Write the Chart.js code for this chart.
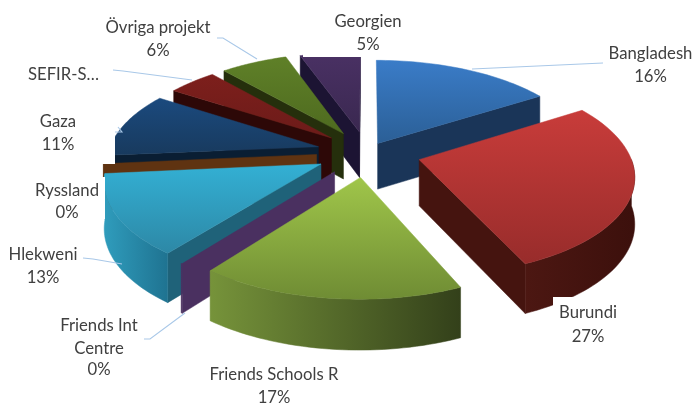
<!DOCTYPE html>
<html><head><meta charset="utf-8">
<style>html,body{margin:0;padding:0;background:#fff}canvas{display:block}</style>
<script src="https://cdn.jsdelivr.net/npm/chart.js@4"></script>
</head><body><canvas id="c" width="696" height="404"></canvas>
<script>
const categories = ["Bangladesh","Burundi","Friends Schools R","Friends Int Centre","Hlekweni","Ryssland","Gaza","SEFIR-S…","Övriga projekt","Georgien"];
const shares = [16,27.4,17,0.1,13,0.1,10.6,4.4,6,5.4];
const explode = [19,46,45,44,44,43,43,41,41,39];
const topFrom = ["#3a7cc8","#c83c3a","#a0c64a","#533769","#33b0d4","#6b3a12","#1b4a7e","#7d1f1c","#5f8028","#4a3164"];
const topTo   = ["#2b5f96","#982c2b","#6f8c34","#3f2a55","#2d88a6","#6b3a12","#183a5e","#6c1b19","#4e6a1f","#3a2850"];
const wallCol = ["#1a3558","#45140f","#3a4a1c","#4a3060","#1f6279","#5f3311","#0a1e33","#2d0807","#252f0c","#1c1433"];
const rimFrom = ["#1a3558","#4c1712","#76933a","#4a3060","#2f9cbc","#5f3311","#0a1e33","#2d0807","#252f0c","#1c1433"];
const rimTo   = ["#1a3558","#3c100c","#33401a","#4a3060","#1f7391","#5f3311","#0a1e33","#2d0807","#252f0c","#1c1433"];
const labelBoxes = [[20,108,95,56],[303,8,110,49],[553,297,80,56],[20,177,85,42]];
const leaders = [[[603,63],[472,69]],[[217,38],[223,38],[257,59]],[[113,70],[123,71],[192,80]],[[83,258],[93,259],[122,264]],[[144,339],[150,339],[185,313]],[[115,132],[122,132],[118,127]]];
const labelSpots = [[650.5,59,[0,23]],[588,318,[0,24]],[274,380,[0,23]],[99,331,[0,23,44]],[43,260,[0,23]],[67,196,[0,22]],[58,127,[0,23]],[63.5,80,[0]],[158,33,[0,23]],[368,27,[0,23]]];

const SX=210, SY=97, K=0.14, CY=152.3, DEPTH=46;
function proj(arc,X,Z,down){
  const w=1/(1-K*Z);
  return [arc.x+SX*X*w, CY+SY*Z*w+(down?DEPTH*(1+(w-1)/2):0)];
}
function unit(arc,ang,r){
  const mid=(arc.startAngle+arc.endAngle)/2, off=arc.options.offset/arc.outerRadius;
  return [Math.cos(mid)*off+Math.cos(ang)*r, Math.sin(mid)*off+Math.sin(ang)*r];
}
function poly(ctx,pts){ctx.beginPath();pts.forEach((p,i)=>i?ctx.lineTo(p[0],p[1]):ctx.moveTo(p[0],p[1]));ctx.closePath();}
function fillPoly(ctx,pts,fill){poly(ctx,pts);ctx.fillStyle=fill;ctx.fill();ctx.strokeStyle=fill;ctx.lineWidth=.5;ctx.stroke();}
function bounds(pts,i){const v=pts.map(p=>p[i]);return [Math.min(...v),Math.max(...v)];}
function radial(ctx,arc,ang,col){
  const a=unit(arc,ang,0),b=unit(arc,ang,1);
  fillPoly(ctx,[proj(arc,a[0],a[1]),proj(arc,b[0],b[1]),proj(arc,b[0],b[1],true),proj(arc,a[0],a[1],true)],col);
}
function drawSlice(ctx,arc,i){
  const s=arc.startAngle,e=arc.endAngle;
  if(-Math.cos(s)>0) radial(ctx,arc,s,wallCol[i]);
  if(Math.cos(e)>0) radial(ctx,arc,e,wallCol[i]);
  const lo=Math.max(s,0),hi=Math.min(e,Math.PI);
  if(hi>lo){
    const up=[],dn=[];
    for(let t=0;t<=40;t++){const a=lo+(hi-lo)*t/40,u=unit(arc,a,1);up.push(proj(arc,u[0],u[1]));dn.unshift(proj(arc,u[0],u[1],true));}
    const all=up.concat(dn),bx=bounds(all,0),g=ctx.createLinearGradient(bx[0],0,bx[1],0);
    g.addColorStop(0,rimFrom[i]);g.addColorStop(1,rimTo[i]);
    fillPoly(ctx,all,g);
  }
  if(e-s>0.05){
    const a=unit(arc,s,0),pts=[proj(arc,a[0],a[1])];
    for(let t=0;t<=40;t++){const u=unit(arc,s+(e-s)*t/40,1);pts.push(proj(arc,u[0],u[1]));}
    const by=bounds(pts,1),g=ctx.createLinearGradient(0,by[0],0,by[1]);
    g.addColorStop(0,topFrom[i]);g.addColorStop(1,topTo[i]);
    fillPoly(ctx,pts,g);
  }
}
const pie3d={id:'pie3d',
  beforeDatasetsDraw(chart){
    const ctx=chart.ctx,meta=chart.getDatasetMeta(0);
    const order=meta.data.map((a,i)=>i).sort((p,q)=>{
      const m=i=>{const a=meta.data[i];return Math.sin((a.startAngle+a.endAngle)/2);};
      return m(p)-m(q);
    });
    ctx.save();
    order.forEach(i=>drawSlice(ctx,meta.data[i],i));
    ctx.restore();
    return false;
  },
  afterDraw(chart){
    const ctx=chart.ctx;
    ctx.save();
    ctx.fillStyle='#fff';
    labelBoxes.forEach(b=>ctx.fillRect(b[0],b[1],b[2],b[3]));
    ctx.strokeStyle='#a9c8e8';ctx.lineWidth=1.1;
    leaders.forEach(l=>{ctx.beginPath();l.forEach((p,i)=>i?ctx.lineTo(p[0],p[1]):ctx.moveTo(p[0],p[1]));ctx.stroke();});
    ctx.fillStyle='#404040';ctx.font='16.7px Lato';ctx.textAlign='center';ctx.textBaseline='alphabetic';
    categories.forEach((name,i)=>{
      const [x,y,gaps]=labelSpots[i];
      const lines=name==="Friends Int Centre"?["Friends Int","Centre"]:[name];
      if(name!=="SEFIR-S…") lines.push(Math.round(shares[i])+"%");
      lines.forEach((t,n)=>ctx.fillText(t,x,y+gaps[n]));
    });
    ctx.restore();
  }
};
new Chart(document.getElementById('c'),{
  type:'pie',
  data:{labels:categories,datasets:[{data:shares,offset:explode,borderWidth:0,backgroundColor:topFrom}]},
  options:{responsive:false,animation:false,layout:{padding:{left:38}},
    plugins:{legend:{display:false},tooltip:{enabled:false}}},
  plugins:[pie3d]
});
</script></body></html>
